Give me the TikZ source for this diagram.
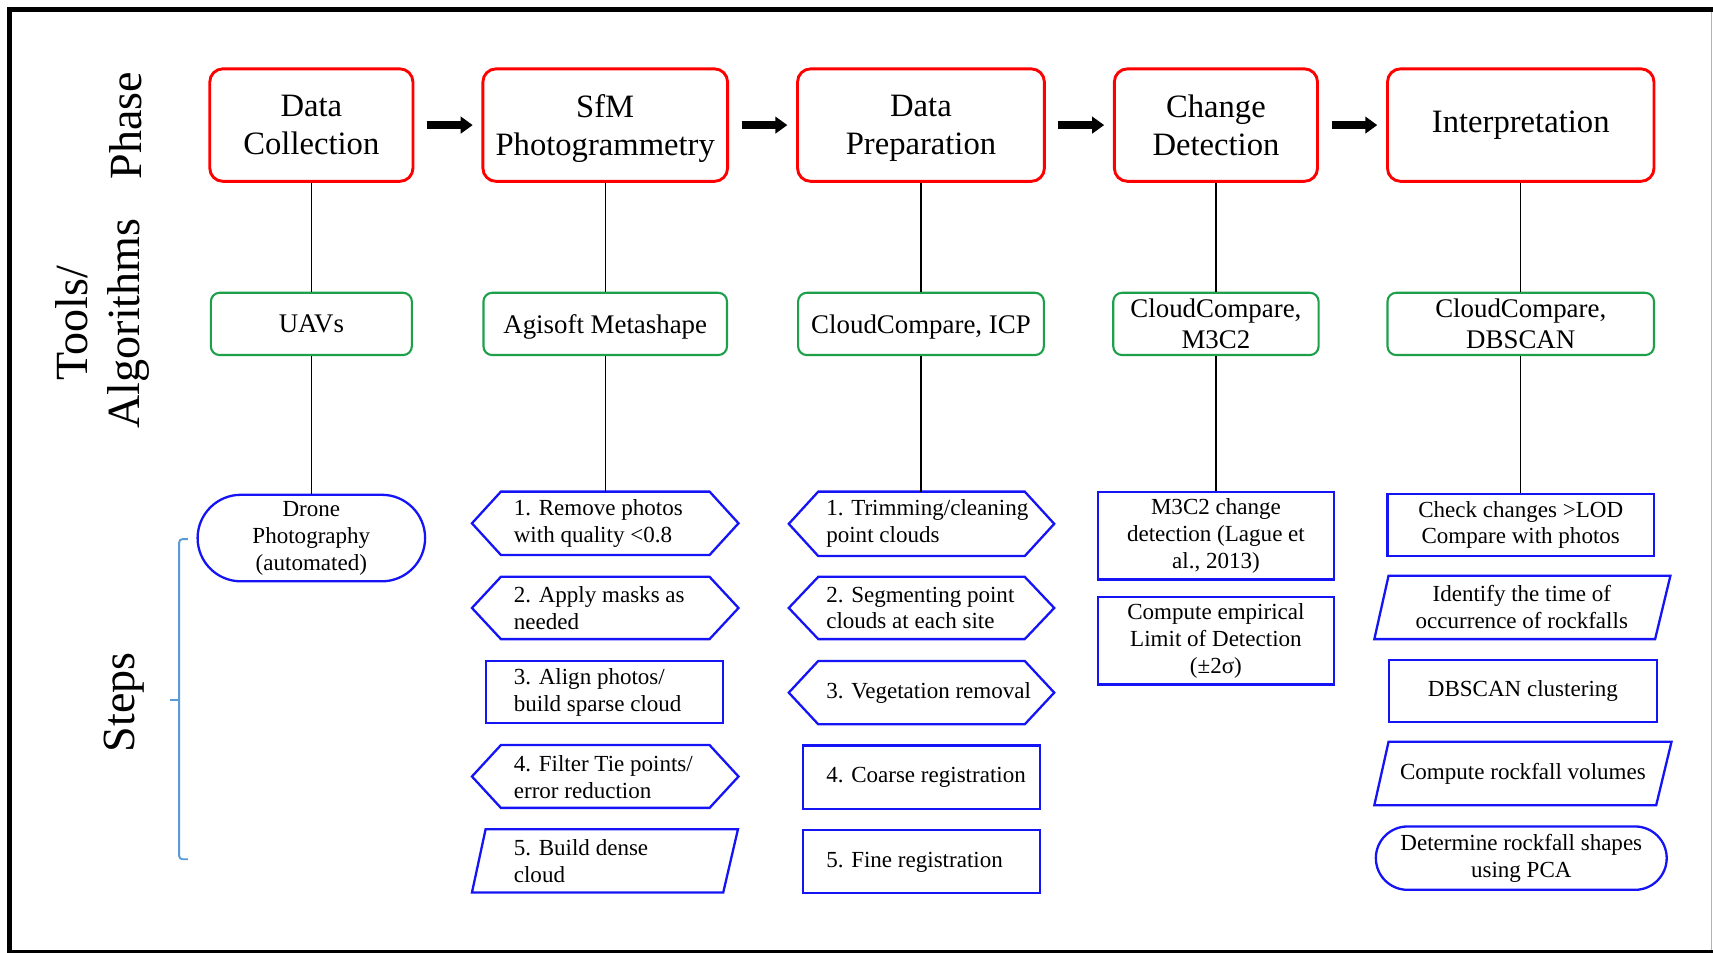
\documentclass[tikz,border=0pt]{standalone}
\usepackage{fontspec}
\setmainfont{Liberation Serif}
\usetikzlibrary{arrows.meta,shapes.misc}

\definecolor{phasered}{RGB}{255,0,0}
\definecolor{toolgreen}{RGB}{30,160,75}
\definecolor{stepblue}{RGB}{20,20,245}
\definecolor{bracketblue}{RGB}{91,155,213}

\begin{document}
\begin{tikzpicture}[x=0.02cm, y=-0.02cm,
  phase/.style={draw=phasered, line width=1.5pt, rounded corners=0.24cm, minimum height=2.06cm, align=center, font=\fontsize{17}{20}\selectfont},
  tool/.style={draw=toolgreen, line width=1.1pt, rounded corners=0.16cm, minimum height=1.14cm, text depth=0pt, align=center, font=\fontsize{14}{16}\selectfont},
  stepbox/.style={draw=stepblue, line width=1.2pt, align=center, font=\fontsize{12}{14}\selectfont},
  stepround/.style={stepbox, rounded rectangle},
  steplabel/.style={align=center, font=\fontsize{12}{14}\selectfont},
  steptext/.style={anchor=west, align=left, inner sep=0pt, font=\fontsize{12}{14}\selectfont},
  stepline/.style={draw=stepblue, line width=1.2pt},
  side/.style={rotate=90, align=center, font=\fontsize{24}{27.3}\selectfont},
  link/.style={line width=0.6pt},
  phasearrow/.style={line width=4.5pt, -{Triangle[length=0.22cm, width=0.3cm]}, shorten <=0.23cm, shorten >=0.16cm}]

  \useasboundingbox (0,0) rectangle (1568,872);

  % frame
  \draw[line width=1.5pt] (9,870.8) -- (1568,870.8);
  \draw[gray!60, line width=0.5pt] (1567,8) -- (1567,870);
  \draw[line width=2.6pt] (9,872) -- (9,8.4) -- (1568,8.4);

  % row labels
  \node[side] (phaselbl) at (115,115) {Phase};
  \node[side] (toollbl) at (94,296) {Tools/\\Algorithms};
  \node[side] (steplbl) at (114,643) {Steps};

  \draw[bracketblue, line width=1pt, rounded corners=0.06cm] (172,493.5) -- (164,493.5) -- (164,786.5) -- (172,786.5);
  \draw[bracketblue, line width=1pt] (164,640.5) -- (156,640.5);

  % phases
  \node[phase, minimum width=3.72cm] (p1) at (285,114.5) {Data\\Collection};
  \node[phase, minimum width=4.48cm, text depth=0pt] (p2) at (554,114.5) {SfM\\Photogrammetry};
  \node[phase, minimum width=4.52cm, text depth=0pt] (p3) at (843,114.5) {Data\\Preparation};
  \node[phase, minimum width=3.72cm] (p4) at (1113,114.5) {Change\\Detection};
  \node[phase, minimum width=4.88cm] (p5) at (1392,114.5) {Interpretation};

  \foreach \a/\b in {p1/p2,p2/p3,p3/p4,p4/p5}
    \draw[phasearrow] (\a.east) -- (\b.west);

  % tools
  \node[tool, minimum width=3.68cm] (t1) at (285,296.5) {UAVs};
  \node[tool, minimum width=4.46cm] (t2) at (554,296.5) {Agisoft Metashape};
  \node[tool, minimum width=4.5cm] (t3) at (843,296.5) {CloudCompare, ICP};
  \node[tool, minimum width=3.76cm] (t4) at (1113,296.5) {CloudCompare,\\M3C2};
  \node[tool, minimum width=4.88cm] (t5) at (1392,296.5) {CloudCompare,\\DBSCAN};

  % steps: outlines
  \foreach \xa/\xb/\ya/\yb/\d in {432/676/450/508/26.5, 432/676/528/585/26.5, 432/676/682/739.5/26.5,
                                  722/965/450/509/27, 722/965/528/585/27, 722/965/605/663/27}
    \draw[stepline] (\xa,{(\ya+\yb)/2}) -- (\xa+\d,\ya) -- (\xb-\d,\ya) -- (\xb,{(\ya+\yb)/2})
      -- (\xb-\d,\yb) -- (\xa+\d,\yb) -- cycle;
  \draw[stepline] (445,605) rectangle (662,662);
  \draw[stepline] (735,682.5) rectangle (952,740.5);
  \draw[stepline] (735,760) rectangle (952,817.5);
  \draw[stepline] (444.5,759) -- (675.5,759) -- (662,817) -- (432,817) -- cycle;
  \draw[stepline] (1271,527) -- (1529,527) -- (1515,585) -- (1258,585) -- cycle;
  \draw[stepline] (1271,679) -- (1530,679) -- (1516,737) -- (1258,737) -- cycle;

  \coordinate (b1top) at (554,450);
  \coordinate (c1top) at (843,450);

  % steps: texts
  \node[stepround, minimum width=4.4cm, minimum height=1.56cm] (s1) at (285,492.5) {Drone\\Photography\\(automated)};

  \node[steptext] (b1) at (470,479) {1. Remove photos\\with quality <0.8};
  \node[steptext] (b2) at (470,556.5) {2. Apply masks as\\needed};
  \node[steptext] (b3) at (470,633.5) {3. Align photos/\\build sparse cloud};
  \node[steptext] (b4) at (470,711) {4. Filter Tie points/\\error reduction};
  \node[steptext] (b5) at (470,788) {5. Build dense\\cloud};

  \node[steptext] (c1) at (756,479.5) {1. Trimming/cleaning\\point clouds};
  \node[steptext] (c2) at (756,556.5) {2. Segmenting point\\clouds at each site};
  \node[steptext] (c3) at (756,634) {3. Vegetation removal};
  \node[steptext] (c4) at (756,711.5) {4. Coarse registration};
  \node[steptext] (c5) at (756,789) {5. Fine registration};

  \node[stepbox, minimum width=4.32cm, minimum height=1.54cm] (d1) at (1113,490.5) {M3C2 change\\detection (Lague et\\al., 2013)};
  \node[stepbox, minimum width=4.32cm, minimum height=1.54cm] (d2) at (1113,586.5) {Compute empirical\\Limit of Detection\\(±2σ)};

  \node[stepbox, minimum width=4.88cm, minimum height=1.14cm] (e1) at (1392,480.5) {Check changes >LOD\\Compare with photos};
  \node[steplabel] (e2) at (1393,556) {Identify the time of\\occurrence of rockfalls};
  \node[stepbox, minimum width=4.9cm, minimum height=1.14cm] (e3) at (1394,632.5) {DBSCAN clustering};
  \node[steplabel] (e4) at (1394,708) {Compute rockfall volumes};
  \node[stepround, minimum width=5.56cm, minimum height=1.16cm] (e5) at (1392.5,785.5) {Determine rockfall shapes\\using PCA};

  % connectors
  \foreach \i in {1,...,5}
    \draw[link] (p\i.south) -- (t\i.north);
  \draw[link] (t1.south) -- (s1.north);
  \draw[link] (t2.south) -- (b1top);
  \draw[link] (t3.south) -- (c1top);
  \draw[link] (t4.south) -- (d1.north);
  \draw[link] (t5.south) -- (e1.north);

\end{tikzpicture}
\end{document}
